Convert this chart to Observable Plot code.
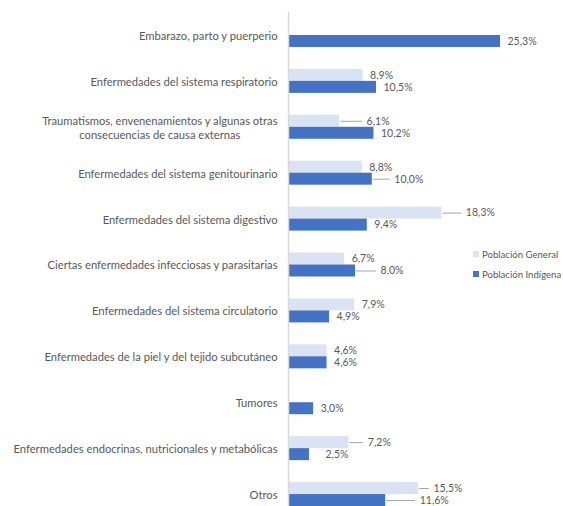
<!DOCTYPE html>
<html><head><meta charset="utf-8">
<script src="https://cdn.jsdelivr.net/npm/d3@7"></script>
<script src="https://cdn.jsdelivr.net/npm/@observablehq/plot@0.6"></script>
<style>
html,body{margin:0;padding:0;background:#fff;overflow:hidden;}
#wrap{position:relative;width:563px;height:506px;overflow:hidden;}
#legend{position:absolute;left:473px;top:244px;font-family:Lato,sans-serif;font-size:9.6px;color:#595959;white-space:nowrap;}
#legend .item{display:flex;align-items:center;height:20px;}
#legend .sw{width:6px;height:6px;margin-right:3px;}
</style></head><body><div id="wrap"><div id="legend"></div></div>
<script>
const categories = [
  "Embarazo, parto y puerperio",
  "Enfermedades del sistema respiratorio",
  "Traumatismos, envenenamientos y algunas otras\nconsecuencias de causa externas",
  "Enfermedades del sistema genitourinario",
  "Enfermedades del sistema digestivo",
  "Ciertas enfermedades infecciosas y parasitarias",
  "Enfermedades del sistema circulatorio",
  "Enfermedades de la piel y del tejido subcutáneo",
  "Tumores",
  "Enfermedades endocrinas, nutricionales y metabólicas",
  "Otros"
];
const general  = [null, 8.9, 6.1, 8.8, 18.3, 6.7, 7.9, 4.6, null, 7.2, 15.5];
const indigena = [25.3, 10.5, 10.2, 10.0, 9.4, 8.0, 4.9, 4.6, 3.0, 2.5, 11.6];
const seriesNames = ["Población General", "Población Indígena"];

// style / layout config
const colors = {"Población General": "#DAE3F3", "Población Indígena": "#4472C4"};
const W = 563, H = 517, ML = 288, MT = 12, MB = 0, XMAX = 30, MR = 23.6;
const k = (W - ML - MR) / XMAX;            // px per unit
const step = (H - MT - MB) / categories.length;
const BAR = 12;
const defaultGap = 7;
// label gaps (px) — leader lines drawn where Excel moved labels
const leaderGap = {
  [categories[2] + "|G"]: 27,
  [categories[3] + "|I"]: 22,
  [categories[4] + "|G"]: 24,
  [categories[5] + "|I"]: 25,
  [categories[9] + "|G"]: 19,
  [categories[10] + "|G"]: 15,
  [categories[10] + "|I"]: 34
};
const plainGap = {[categories[9] + "|I"]: 16};

const rows = categories.flatMap((c, i) => [
  {cat: c, s: "G", serie: seriesNames[0], value: general[i]},
  {cat: c, s: "I", serie: seriesNames[1], value: indigena[i]}
]).filter(d => d.value != null);
rows.forEach(d => {
  const key = d.cat + "|" + d.s;
  d.leader = leaderGap[key] != null;
  d.gap = leaderGap[key] ?? plainGap[key] ?? defaultGap;
});
const G = rows.filter(d => d.s === "G"), I = rows.filter(d => d.s === "I");
const fmt = d => d.value.toFixed(1).replace(".", ",") + "%";

const chart = Plot.plot({
  width: W, height: H,
  marginLeft: ML, marginTop: MT, marginBottom: MB, marginRight: MR,
  style: {fontFamily: "Lato, sans-serif", color: "#595959", background: "#fff"},
  x: {domain: [0, XMAX], axis: null},
  y: {domain: categories, padding: 0, round: false, label: null},
  marks: [
    Plot.barX(G, {x: "value", y: "cat", fill: colors[seriesNames[0]], insetTop: step / 2 - BAR, insetBottom: step / 2}),
    Plot.barX(I, {x: "value", y: "cat", fill: colors[seriesNames[1]], insetTop: step / 2, insetBottom: step / 2 - BAR}),
    Plot.ruleX([0], {stroke: "#D9D9D9", strokeWidth: 1.5}),
    Plot.ruleY(G.filter(d => d.leader), {y: "cat", x1: d => d.value + 1 / k, x2: d => d.value + (d.gap - 4) / k, dy: -BAR / 2, stroke: "#A6A6A6", strokeWidth: 1}),
    Plot.ruleY(I.filter(d => d.leader), {y: "cat", x1: d => d.value + 1 / k, x2: d => d.value + (d.gap - 4) / k, dy: BAR / 2, stroke: "#A6A6A6", strokeWidth: 1}),
    Plot.text(G, {x: d => d.value + d.gap / k, y: "cat", dy: -BAR / 2, text: fmt, textAnchor: "start", fontSize: 10.5, fill: "#595959"}),
    Plot.text(I, {x: d => d.value + d.gap / k, y: "cat", dy: BAR / 2, text: fmt, textAnchor: "start", fontSize: 10.5, fill: "#595959"}),
    Plot.axisY({tickSize: 0, tickPadding: 11, fontSize: 11.2, lineHeight: 1.25, textAnchor: "end", fill: "#595959"})
  ]
});
document.getElementById("wrap").prepend(chart);
chart.style.display = "block";

// center multi-line category labels (Excel style)
chart.querySelectorAll("text").forEach(t => {
  const spans = t.querySelectorAll("tspan");
  if (spans.length > 1) {
    let maxW = 0;
    spans.forEach(s => maxW = Math.max(maxW, s.getComputedTextLength()));
    t.setAttribute("text-anchor", "middle");
    spans.forEach(s => s.setAttribute("x", -maxW / 2));
  }
});

const legend = document.getElementById("legend");
seriesNames.forEach(n => {
  const it = document.createElement("div");
  it.className = "item";
  it.innerHTML = `<span class="sw" style="background:${colors[n]}"></span><span>${n}</span>`;
  legend.appendChild(it);
});
</script>
</body></html>
